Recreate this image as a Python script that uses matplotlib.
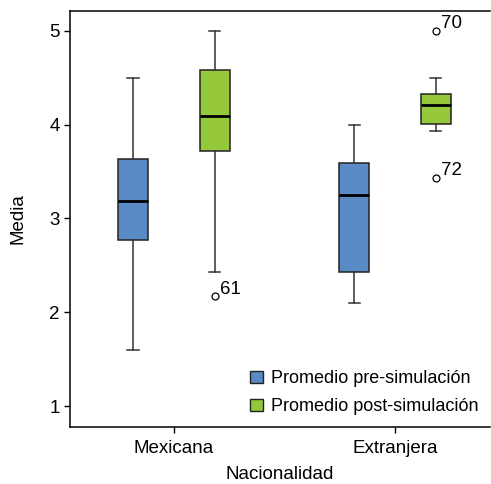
import matplotlib
matplotlib.use("Agg")
import matplotlib.pyplot as plt
from matplotlib.patches import Patch

plt.rcParams["font.family"] = ["Liberation Sans Narrow", "Liberation Sans", "DejaVu Sans"]

categories = ["Mexicana", "Extranjera"]
series = ["Promedio pre-simulación", "Promedio post-simulación"]
colors = ["#5a8ac6", "#96c83c"]

# whislo, q1, med, q3, whishi per category, per series
pre_stats = [(1.60, 2.77, 3.18, 3.63, 4.50), (2.10, 2.43, 3.25, 3.59, 4.00)]
post_stats = [(2.43, 3.72, 4.09, 4.58, 5.00), (3.93, 4.01, 4.21, 4.33, 4.50)]
pre_outliers = [[], []]
post_outliers = [[(2.17, "61")], [(5.00, "70"), (3.43, "72")]]

offset = 0.185
width = 0.136

fig = plt.figure(figsize=(4.91, 4.84), dpi=100)
ax = fig.add_axes([70 / 491, 57 / 484, 420 / 491, 416 / 484])

for s, (stats_list, outl, color) in enumerate(
        zip([pre_stats, post_stats], [pre_outliers, post_outliers], colors)):
    shift = -offset if s == 0 else offset
    bstats = []
    for (lo, q1, med, q3, hi), out in zip(stats_list, outl):
        bstats.append({"whislo": lo, "q1": q1, "med": med, "q3": q3, "whishi": hi,
                       "fliers": [v for v, _ in out]})
    pos = [i + shift for i in range(len(categories))]
    ax.bxp(bstats, positions=pos, widths=width, capwidths=0.05, patch_artist=True,
           showfliers=True,
           boxprops=dict(facecolor=color, edgecolor="#222222", linewidth=1.1),
           medianprops=dict(color="black", linewidth=2),
           whiskerprops=dict(color="#333333", linewidth=1.1),
           capprops=dict(color="#333333", linewidth=1.1),
           flierprops=dict(marker="o", markersize=5, markerfacecolor="white",
                           markeredgecolor="black", markeredgewidth=0.9))
    for p, out in zip(pos, outl):
        for v, lab in out:
            ax.annotate(lab, (p, v), xytext=(4, -1), textcoords="offset points",
                        fontsize=13.5, ha="left", va="bottom")

ax.set_xlim(-0.47, 1.43)
ax.set_ylim(0.777, 5.21)
ax.set_xticks(range(len(categories)))
ax.set_xticklabels(categories)
ax.set_yticks([1, 2, 3, 4, 5])
ax.tick_params(labelsize=13.5, length=4, width=1)
ax.tick_params(axis="x", pad=5.5)
ax.set_xlabel("Nacionalidad", fontsize=13.5, labelpad=6)
ax.set_ylabel("Media", fontsize=13.5, labelpad=16)
for sp in ax.spines.values():
    sp.set_linewidth(1.1)
ax.spines["right"].set_visible(False)

handles = [Patch(facecolor=c, edgecolor="#222222", label=l) for c, l in zip(colors, series)]
ax.legend(handles=handles, loc="lower right", frameon=False, fontsize=13,
          handlelength=0.7, handleheight=0.7, handletextpad=0.45, labelspacing=0.6,
          borderaxespad=0.25)

fig.savefig("out.png", dpi=100)
